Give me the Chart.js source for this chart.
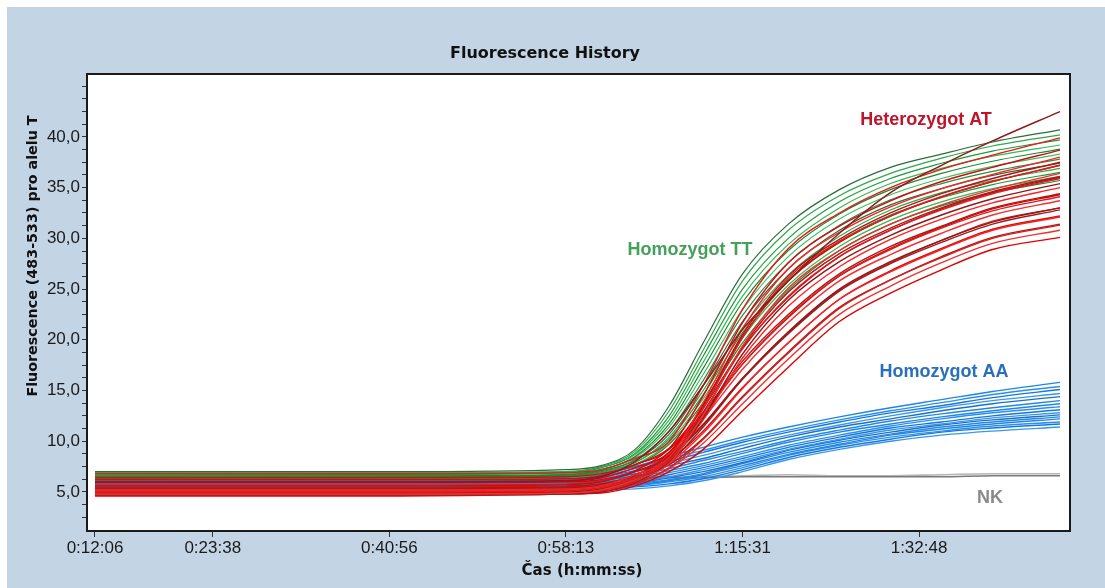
<!DOCTYPE html>
<html>
<head>
<meta charset="utf-8">
<title>Fluorescence History</title>
<script src="https://cdn.jsdelivr.net/npm/chart.js@4.4.1/dist/chart.umd.min.js"></script>
<style>
	html, body { margin: 0; padding: 0; background: #ffffff; }
	#graf { display: block; }
</style>
</head>
<body>
<canvas id="graf" width="1105" height="588"></canvas>
<script>
// casy mereni v sekundach
const casy = [726, 2456, 3493, 3700, 3900, 4100, 4300, 4531, 4800, 5100, 5400, 5700, 6000, 6396];
// popisky osy x (sekundy)
const tickCasy = [726, 1418, 2456, 3493, 4531, 5568];
// popisky osy y
const yPopisky = [5, 10, 15, 20, 25, 30, 35, 40];

// Homozygot TT
const zelene = [
	[7.0, 7.0, 7.2, 7.6, 9.2, 13.5, 19.7, 26.5, 31.4, 34.8, 37.0, 38.3, 39.5, 40.7],
	[6.8, 6.8, 7.0, 7.5, 9.0, 13.0, 19.0, 25.8, 30.8, 34.2, 36.4, 37.9, 39.1, 40.2],
	[6.6, 6.7, 6.9, 7.4, 8.8, 12.5, 18.4, 25.0, 30.0, 33.6, 35.9, 37.4, 38.6, 39.7],
	[6.9, 6.9, 7.0, 7.4, 8.7, 12.1, 17.8, 24.3, 29.4, 33.0, 35.4, 36.9, 38.1, 39.2],
	[6.5, 6.5, 6.7, 7.2, 8.5, 11.7, 17.2, 23.7, 28.8, 32.4, 34.8, 36.4, 37.6, 38.8],
	[6.7, 6.7, 6.8, 7.2, 8.4, 11.4, 16.6, 23.0, 28.2, 31.9, 34.3, 35.9, 37.1, 38.3],
	[6.4, 6.4, 6.6, 7.0, 8.2, 11.0, 16.0, 22.4, 27.6, 31.3, 33.8, 35.4, 36.6, 37.8],
	[6.6, 6.6, 6.7, 7.1, 8.1, 10.7, 15.5, 21.8, 27.0, 30.8, 33.3, 34.9, 36.2, 37.4],
	[6.3, 6.3, 6.5, 6.9, 7.9, 10.4, 15.0, 21.2, 26.4, 30.2, 32.8, 34.5, 35.7, 36.9],
	[6.5, 6.5, 6.6, 7.0, 7.9, 10.2, 14.6, 20.7, 25.9, 29.7, 32.3, 34.0, 35.3, 36.5],
	[6.2, 6.3, 6.4, 6.8, 7.7, 9.9, 14.2, 20.2, 25.4, 29.2, 31.8, 33.6, 34.9, 36.1],
	[6.4, 6.4, 6.5, 6.8, 7.6, 9.7, 13.8, 19.7, 24.9, 28.8, 31.4, 33.2, 34.5, 35.7]
];

// Heterozygot AT
const cervene = [
	[6.0, 6.0, 6.1, 6.5, 8.0, 11.0, 15.5, 21.0, 25.8, 30.5, 34.5, 37.2, 39.6, 42.5],
	[6.8, 6.8, 6.9, 7.2, 8.3, 10.0, 15.5, 23.0, 29.0, 32.5, 35.0, 36.8, 38.2, 39.9],
	[5.2, 5.2, 5.3, 5.6, 6.7, 8.4, 13.8, 21.1, 27.0, 30.6, 33.1, 34.9, 36.3, 38.0],
	[6.2, 6.2, 6.3, 6.6, 7.7, 9.3, 14.5, 21.7, 27.6, 31.2, 33.7, 35.6, 37.0, 38.7],
	[5.0, 5.0, 5.1, 5.4, 6.4, 8.1, 13.2, 20.2, 26.1, 29.7, 32.2, 34.1, 35.6, 37.2],
	[5.6, 5.6, 5.7, 6.0, 7.0, 8.6, 13.5, 20.5, 26.3, 29.9, 32.5, 34.4, 35.9, 37.5],
	[4.8, 4.8, 4.9, 5.2, 6.2, 7.8, 12.6, 19.4, 25.1, 28.8, 31.4, 33.3, 34.8, 36.4],
	[6.0, 6.0, 6.1, 6.4, 7.4, 8.9, 13.6, 20.3, 25.8, 29.6, 32.2, 34.1, 35.6, 37.2],
	[5.3, 5.3, 5.4, 5.7, 6.7, 8.3, 12.8, 19.3, 24.7, 28.5, 31.0, 33.0, 34.6, 36.1],
	[4.9, 4.9, 5.0, 5.3, 6.2, 7.9, 12.3, 18.6, 23.9, 27.7, 30.3, 32.3, 33.9, 35.4],
	[5.7, 5.7, 5.8, 6.1, 7.0, 8.7, 12.9, 19.1, 24.3, 28.2, 30.8, 32.8, 34.4, 35.9],
	[5.1, 5.1, 5.2, 5.5, 6.4, 8.1, 12.1, 18.2, 23.3, 27.2, 29.9, 31.9, 33.5, 35.0],
	[6.4, 6.4, 6.5, 6.8, 7.7, 9.3, 13.3, 19.2, 24.2, 28.2, 30.8, 32.9, 34.5, 36.0],
	[4.8, 4.8, 4.9, 5.2, 6.1, 8.4, 12.5, 17.6, 22.3, 26.3, 28.9, 31.0, 32.7, 34.1],
	[5.4, 5.4, 5.5, 5.8, 6.6, 8.9, 12.8, 17.9, 22.5, 26.5, 29.2, 31.2, 33.0, 34.4],
	[5.0, 5.0, 5.1, 5.3, 6.2, 8.4, 12.2, 17.1, 21.7, 25.8, 28.4, 30.5, 32.3, 33.7],
	[5.9, 5.9, 6.0, 6.2, 7.1, 9.2, 12.8, 17.6, 22.2, 26.3, 29.0, 31.1, 32.9, 34.3],
	[4.7, 4.7, 4.8, 5.0, 5.9, 7.9, 11.4, 16.1, 20.6, 24.8, 27.5, 29.6, 31.4, 32.8],
	[5.2, 5.2, 5.3, 5.5, 6.4, 8.3, 11.6, 16.2, 20.8, 25.0, 27.7, 29.8, 31.6, 33.0],
	[5.5, 5.5, 5.6, 5.8, 6.6, 8.5, 11.7, 16.2, 20.7, 24.9, 27.6, 29.8, 31.7, 33.0],
	[4.9, 4.9, 5.0, 5.2, 6.0, 7.8, 10.8, 15.2, 19.7, 24.0, 26.7, 28.9, 30.8, 32.1],
	[5.3, 5.3, 5.4, 5.6, 6.4, 8.1, 11.0, 15.3, 19.7, 24.0, 26.8, 29.0, 30.9, 32.2],
	[4.7, 4.7, 4.8, 5.0, 5.8, 7.4, 10.2, 14.3, 18.7, 23.1, 25.9, 28.1, 30.0, 31.3],
	[5.1, 5.1, 5.2, 5.4, 6.2, 7.7, 10.3, 14.4, 18.8, 23.2, 25.9, 28.2, 30.1, 31.4],
	[4.8, 4.8, 4.9, 5.1, 5.8, 7.3, 9.8, 13.7, 18.1, 22.5, 25.3, 27.6, 29.5, 30.8],
	[4.6, 4.6, 4.8, 4.9, 5.6, 7.0, 9.2, 13.0, 17.3, 21.8, 24.6, 26.9, 28.9, 30.1]
];

// Homozygot AA
const modre = [
	[6.3, 6.3, 6.4, 6.7, 7.5, 8.5, 9.4, 10.4, 11.4, 12.4, 13.3, 14.1, 14.9, 15.8],
	[6.2, 6.2, 6.3, 6.6, 7.3, 8.3, 9.1, 10.1, 11.1, 12.1, 13.0, 13.8, 14.6, 15.4],
	[6.2, 6.2, 6.2, 6.5, 7.1, 8.0, 8.9, 9.9, 10.9, 11.9, 12.8, 13.5, 14.3, 15.1],
	[6.1, 6.1, 6.1, 6.3, 7.0, 7.8, 8.6, 9.6, 10.6, 11.6, 12.5, 13.3, 14.0, 14.7],
	[6.0, 6.0, 6.0, 6.2, 6.8, 7.6, 8.3, 9.3, 10.4, 11.4, 12.2, 13.0, 13.7, 14.4],
	[5.9, 5.9, 5.9, 6.1, 6.6, 7.3, 8.1, 9.0, 10.1, 11.1, 12.0, 12.7, 13.3, 14.0],
	[5.9, 5.9, 5.8, 6.0, 6.4, 7.1, 7.8, 8.8, 9.9, 10.9, 11.7, 12.4, 13.0, 13.7],
	[5.8, 5.8, 5.7, 5.9, 6.3, 6.9, 7.6, 8.5, 9.6, 10.6, 11.5, 12.2, 12.8, 13.4],
	[5.7, 5.7, 5.7, 5.8, 6.1, 6.7, 7.4, 8.3, 9.4, 10.4, 11.3, 11.9, 12.5, 13.1],
	[5.7, 5.7, 5.6, 5.7, 6.0, 6.5, 7.2, 8.1, 9.2, 10.2, 11.1, 11.7, 12.3, 12.8],
	[5.6, 5.6, 5.5, 5.6, 5.9, 6.4, 7.0, 7.9, 9.1, 10.1, 10.9, 11.6, 12.1, 12.6],
	[5.6, 5.6, 5.5, 5.5, 5.8, 6.2, 6.8, 7.8, 8.9, 9.9, 10.7, 11.4, 11.9, 12.4],
	[5.6, 5.6, 5.4, 5.5, 5.7, 6.1, 6.7, 7.6, 8.7, 9.7, 10.6, 11.2, 11.7, 12.2],
	[5.5, 5.5, 5.3, 5.4, 5.6, 6.0, 6.5, 7.4, 8.6, 9.6, 10.4, 11.0, 11.5, 11.9],
	[5.5, 5.5, 5.3, 5.3, 5.5, 5.8, 6.3, 7.2, 8.4, 9.4, 10.2, 10.9, 11.3, 11.7],
	[5.4, 5.4, 5.2, 5.2, 5.3, 5.6, 6.1, 7.0, 8.2, 9.2, 10.0, 10.6, 11.0, 11.4]
];

// NK (negativni kontrola)
const nk = [
	[6.4, 6.4, 6.4, 6.4, 6.4, 6.4, 6.4, 6.5, 6.5, 6.5, 6.5, 6.5, 6.6, 6.6],
	[6.5, 6.5, 6.5, 6.5, 6.5, 6.5, 6.5, 6.6, 6.7, 6.6, 6.6, 6.7, 6.8, 6.8]
];

const barvyZelene = ['#2f6b3a', '#2da84a', '#1f9a3a', '#34b850', '#178a30', '#3fc060', '#2a8f44'];
const barvyCervene = ['#8b1a1a', '#e41a1c', '#ff2020', '#c81010', '#d42020', '#b01515', '#f03030', '#e00000', '#a01c1c'];
const barvyModre = ['#1f86e8', '#2a8ff0', '#1a76d6', '#3498f0', '#1d6fc4', '#2288e0'];
const barvyNk = ['#7a7a7a', '#b4b4b4'];

function krivka(hodnoty, barva, poradi, sirka) {
	return {
		data: casy.map((t, i) => ({ x: t, y: hodnoty[i] })),
		borderColor: barva,
		borderWidth: sirka,
		pointRadius: 0,
		cubicInterpolationMode: 'monotone',
		order: poradi
	};
}

// poradi: vyssi cislo = kresleno driv (vespod)
const sady = [];
nk.forEach((k, i) => sady.push(krivka(k, barvyNk[i], 5, 1.6)));
modre.forEach((k, i) => sady.push(krivka(k, barvyModre[i % barvyModre.length], 4, 1.4)));
zelene.forEach((k, i) => sady.push(krivka(k, barvyZelene[i % barvyZelene.length], 3, 1.2)));
cervene.forEach((k, i) => sady.push(krivka(k, barvyCervene[i % barvyCervene.length], 2, 1.4)));

function formatCas(v) {
	const h = Math.floor(v / 3600);
	const m = Math.floor((v % 3600) / 60);
	const s = Math.round(v % 60);
	return h + ':' + String(m).padStart(2, '0') + ':' + String(s).padStart(2, '0');
}

const pozadi = {
	id: 'pozadi',
	beforeDraw(chart) {
		const c = chart.ctx, a = chart.chartArea;
		c.save();
		c.fillStyle = '#ffffff';
		c.fillRect(0, 0, chart.width, chart.height);
		c.fillStyle = '#c3d5e4';
		c.fillRect(7, 7, chart.width - 7, chart.height - 7);
		c.fillStyle = '#ffffff';
		c.fillRect(a.left, a.top, a.right - a.left, a.bottom - a.top);
		c.restore();
	},
	afterDraw(chart) {
		const c = chart.ctx, a = chart.chartArea;
		c.save();
		c.strokeStyle = '#1a1a1a';
		c.lineWidth = 2;
		c.strokeRect(a.left, a.top, a.right - a.left, a.bottom - a.top);

		c.fillStyle = '#111111';
		c.textAlign = 'center';
		c.textBaseline = 'alphabetic';
		c.font = 'bold 16px "DejaVu Sans"';
		c.fillText('Fluorescence History', 545, 58);
		c.font = 'bold 15px "DejaVu Sans"';
		c.fillText('Čas (h:mm:ss)', 582, 575);
		c.save();
		c.translate(37, 256);
		c.rotate(-Math.PI / 2);
		c.font = 'bold 14.3px "DejaVu Sans"';
		c.fillText('Fluorescence (483-533) pro alelu T', 0, 0);
		c.restore();

		// popisky skupin
		c.font = 'bold 18px "Liberation Sans"';
		c.fillStyle = '#c0142a';
		c.fillText('Heterozygot AT', 926, 125);
		c.fillStyle = '#45a05a';
		c.fillText('Homozygot TT', 690, 255);
		c.fillStyle = '#2a6ebe';
		c.fillText('Homozygot AA', 944, 377);
		c.fillStyle = '#8a8a8a';
		c.fillText('NK', 990, 503);
		c.restore();
	}
};

new Chart(document.getElementById('graf'), {
	type: 'line',
	data: { datasets: sady },
	options: {
		responsive: false,
		animation: false,
		devicePixelRatio: 1,
		layout: { padding: { top: 74, right: 35, left: 0, bottom: 0 } },
		plugins: {
			legend: { display: false },
			tooltip: { enabled: false },
			title: { display: false }
		},
		scales: {
			x: {
				type: 'linear',
				min: 679,
				max: 6455,
				afterBuildTicks: s => { s.ticks = tickCasy.map(v => ({ value: v })); },
				afterFit: s => { s.height = 57; },
				border: { display: false },
				grid: { drawOnChartArea: false, drawTicks: true, tickLength: 6, color: '#333333' },
				ticks: {
					autoSkip: false,
					maxRotation: 0,
					padding: 1,
					color: '#1a1a1a',
					font: { family: 'Liberation Sans', size: 17 },
					callback: v => formatCas(v)
				}
			},
			y: {
				min: 1.15,
				max: 46.2,
				afterBuildTicks: s => {
					const t = [];
					for (let v = 2.5; v <= 45; v += 1.25) t.push({ value: v });
					s.ticks = t;
				},
				afterFit: s => { s.width = 87; },
				border: { display: false },
				grid: { drawOnChartArea: false, drawTicks: true, tickLength: 5, color: '#333333' },
				ticks: {
					autoSkip: false,
					padding: 2,
					color: '#1a1a1a',
					font: { family: 'Liberation Sans', size: 17 },
					callback: v => yPopisky.includes(v) ? v.toFixed(1).replace('.', ',') : ''
				}
			}
		}
	},
	plugins: [pozadi]
});
</script>
</body>
</html>
